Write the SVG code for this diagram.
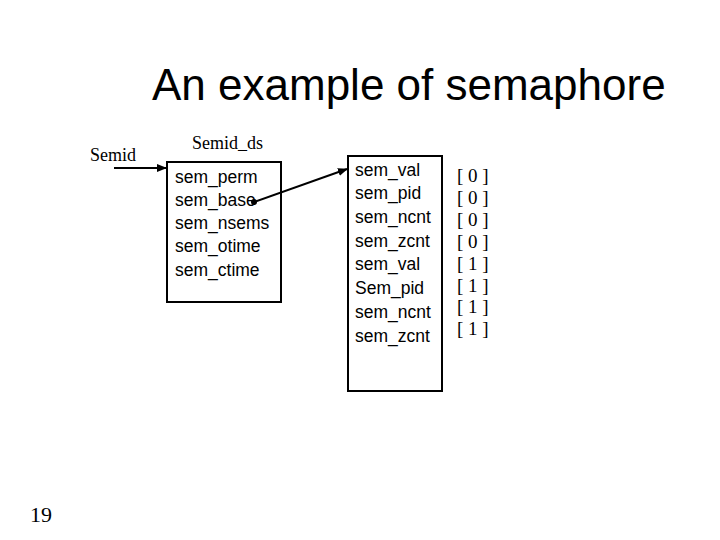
<svg xmlns="http://www.w3.org/2000/svg" width="720" height="540" viewBox="0 0 720 540">
<defs>
<style>
.sans{font-family:"Liberation Sans",Arial,sans-serif;fill:#000}
.serif{font-family:"Liberation Serif","Times New Roman",serif;fill:#000}
.box{fill:none;stroke:#000;stroke-width:2}
.conn{stroke:#000;stroke-width:2;fill:none}
</style>
<marker id="ah" viewBox="0 0 10 10" refX="9" refY="5" markerWidth="5" markerHeight="5" orient="auto" markerUnits="strokeWidth"><path d="M0,1 L10,5 L0,9 z" fill="#000"/></marker>
</defs>
<rect width="720" height="540" fill="#fff"/>
<text id="title" class="sans" x="152" y="100" font-size="44" fill="#111">An example of semaphore</text>
<g id="semid"><text class="serif" x="90" y="161" font-size="18">Semid</text></g>
<g id="semid_ds">
<text class="serif" x="192" y="149" font-size="18">Semid_ds</text>
<rect class="box" x="167" y="162" width="114" height="140"/>
<g class="sans" font-size="17.5">
<text x="175" y="183">sem_perm</text>
<text x="175" y="206">sem_base</text>
<text x="175" y="229">sem_nsems</text>
<text x="175" y="252">sem_otime</text>
<text x="175" y="276">sem_ctime</text>
</g>
</g>
<g id="sem_array">
<rect class="box" x="348" y="156" width="94" height="235"/>
<g class="sans" font-size="17.5">
<text x="355" y="176">sem_val</text>
<text x="355" y="199">sem_pid</text>
<text x="355" y="223">sem_ncnt</text>
<text x="355" y="247">sem_zcnt</text>
<text x="355" y="270">sem_val</text>
<text x="355" y="294">Sem_pid</text>
<text x="355" y="318">sem_ncnt</text>
<text x="355" y="342">sem_zcnt</text>
</g>
</g>
<g id="values" class="serif" font-size="19">
<text x="457" y="182">[ 0 ]</text>
<text x="457" y="204">[ 0 ]</text>
<text x="457" y="226">[ 0 ]</text>
<text x="457" y="248">[ 0 ]</text>
<text x="457" y="270">[ 1 ]</text>
<text x="457" y="292">[ 1 ]</text>
<text x="457" y="313">[ 1 ]</text>
<text x="457" y="335">[ 1 ]</text>
</g>
<g id="connectors">
<line class="conn" x1="114" y1="168" x2="166" y2="168" marker-end="url(#ah)"/>
<circle cx="254" cy="202" r="3" fill="#000"/>
<line class="conn" x1="254" y1="202" x2="347" y2="169" marker-end="url(#ah)"/>
</g>
<text id="page" class="serif" x="30" y="522" font-size="22">19</text>
</svg>
